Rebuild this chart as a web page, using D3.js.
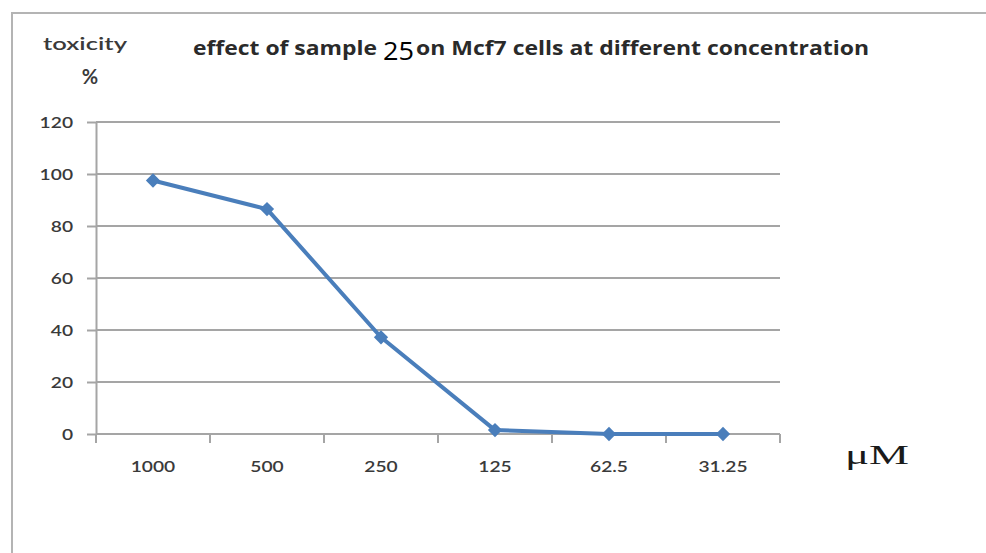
<!DOCTYPE html>
<html>
<head>
<meta charset="utf-8">
<script src="https://cdn.jsdelivr.net/npm/d3@7"></script>
<style>
  html, body { margin: 0; padding: 0; background: #fff; }
  svg { display: block; }
</style>
</head>
<body>
<svg id="chart" width="986" height="553"></svg>
<script>
// Concentrations (µM) and toxicity (%) of sample 25 on Mcf7 cells
const concentrations = ["1000", "500", "250", "125", "62.5", "31.25"];
const toxicity = [97.5, 86.5, 37.2, 1.5, 0, 0];
const yTicks = [0, 20, 40, 60, 80, 100, 120];

const svg = d3.select("#chart");
const plotLeft = 96, plotRight = 780, plotTop = 122, plotBottom = 434;

const x = d3.scaleBand().domain(concentrations).range([plotLeft, plotRight]);
const y = d3.scaleLinear().domain([0, 120]).range([plotBottom, plotTop]);

const labelFont = "Lato, 'Open Sans', sans-serif";
const labelColor = "#3a3a3a";
const gridColor = "#a5a5a5";

// Frame around the chart
svg.append("path")
  .attr("d", "M12,553 L12,13 L986,13")
  .attr("fill", "none")
  .attr("stroke", "#b4b4b4")
  .attr("stroke-width", 2);

// Horizontal gridlines
svg.append("g")
  .selectAll("line")
  .data(yTicks.filter(d => d > 0))
  .join("line")
  .attr("x1", plotLeft).attr("x2", plotRight)
  .attr("y1", d => y(d)).attr("y2", d => y(d))
  .attr("stroke", gridColor)
  .attr("stroke-width", 2);

// Y axis
const yAxis = svg.append("g")
  .attr("transform", `translate(${plotLeft},0)`)
  .call(d3.axisLeft(y).tickValues(yTicks).tickSize(9).tickPadding(13).tickSizeOuter(0));
yAxis.select(".domain").attr("stroke", gridColor).attr("stroke-width", 2);
yAxis.selectAll(".tick line").attr("stroke", gridColor).attr("stroke-width", 2);
yAxis.selectAll(".tick text")
  .attr("font-family", labelFont)
  .attr("font-size", 16)
  .attr("font-weight", 600)
  .attr("fill", labelColor)
  .attr("transform", "scale(1.2,1)")
  .attr("x", -23 / 1.2);

// X axis: labels at category centres, tick marks on category boundaries
const xAxis = svg.append("g")
  .attr("transform", `translate(0,${plotBottom})`)
  .call(d3.axisBottom(x).tickSize(0).tickPadding(27).tickSizeOuter(0));
xAxis.select(".domain").remove();
xAxis.selectAll(".tick text")
  .attr("font-family", labelFont)
  .attr("font-size", 16)
  .attr("font-weight", 600)
  .attr("fill", labelColor)
  .attr("transform", "scale(1.2,1)");

svg.append("line")
  .attr("x1", plotLeft).attr("x2", plotRight)
  .attr("y1", plotBottom).attr("y2", plotBottom)
  .attr("stroke", gridColor).attr("stroke-width", 2);

const boundaries = concentrations.map(c => x(c)).concat([x.range()[1]]);
svg.append("g")
  .selectAll("line")
  .data(boundaries)
  .join("line")
  .attr("x1", d => d).attr("x2", d => d)
  .attr("y1", plotBottom).attr("y2", plotBottom + 9)
  .attr("stroke", gridColor)
  .attr("stroke-width", 2);

// Data line
const cx = (d, i) => x(concentrations[i]) + x.bandwidth() / 2;
svg.append("path")
  .datum(toxicity)
  .attr("fill", "none")
  .attr("stroke", "#4a7ebb")
  .attr("stroke-width", 4)
  .attr("stroke-linejoin", "round")
  .attr("d", d3.line().x(cx).y(d => y(d)));

// Diamond markers
svg.append("g")
  .selectAll("path")
  .data(toxicity)
  .join("path")
  .attr("transform", (d, i) => `translate(${cx(d, i)},${y(d)})`)
  .attr("d", d3.symbol().type(d3.symbolDiamond2).size(130))
  .attr("fill", "#4a7ebb");

// Y axis title
svg.append("text")
  .attr("x", 85).attr("y", 50)
  .attr("text-anchor", "middle")
  .attr("font-family", labelFont)
  .attr("font-size", 17)
  .attr("font-weight", 600)
  .attr("fill", labelColor)
  .attr("textLength", 84)
  .attr("lengthAdjust", "spacingAndGlyphs")
  .text("toxicity");
svg.append("text")
  .attr("x", 90).attr("y", 84)
  .attr("text-anchor", "middle")
  .attr("font-family", labelFont)
  .attr("font-size", 20)
  .attr("font-weight", "bold")
  .attr("fill", labelColor)
  .text("%");

// Chart title
const titleFont = "'Open Sans', Lato, sans-serif";
svg.append("text")
  .attr("x", 193).attr("y", 55)
  .attr("font-family", titleFont)
  .attr("font-size", 20)
  .attr("font-weight", "bold")
  .attr("fill", "#2a2a2a")
  .attr("textLength", 184)
  .attr("lengthAdjust", "spacingAndGlyphs")
  .text("effect of sample");
svg.append("text")
  .attr("x", 383).attr("y", 60)
  .attr("font-family", "'Open Sans', sans-serif")
  .attr("font-size", 25)
  .attr("fill", "#000")
  .attr("textLength", 31)
  .attr("lengthAdjust", "spacingAndGlyphs")
  .text("25");
svg.append("text")
  .attr("x", 416).attr("y", 55)
  .attr("font-family", titleFont)
  .attr("font-size", 20)
  .attr("font-weight", "bold")
  .attr("fill", "#2a2a2a")
  .attr("textLength", 453)
  .attr("lengthAdjust", "spacingAndGlyphs")
  .text("on Mcf7 cells at different concentration");

// Unit label
svg.append("text")
  .attr("x", 845).attr("y", 464)
  .attr("font-family", "'Liberation Serif', 'DejaVu Serif', serif")
  .attr("font-size", 27)
  .attr("fill", "#1a1a1a")
  .attr("textLength", 64)
  .attr("lengthAdjust", "spacingAndGlyphs")
  .text("μM");
</script>
</body>
</html>
